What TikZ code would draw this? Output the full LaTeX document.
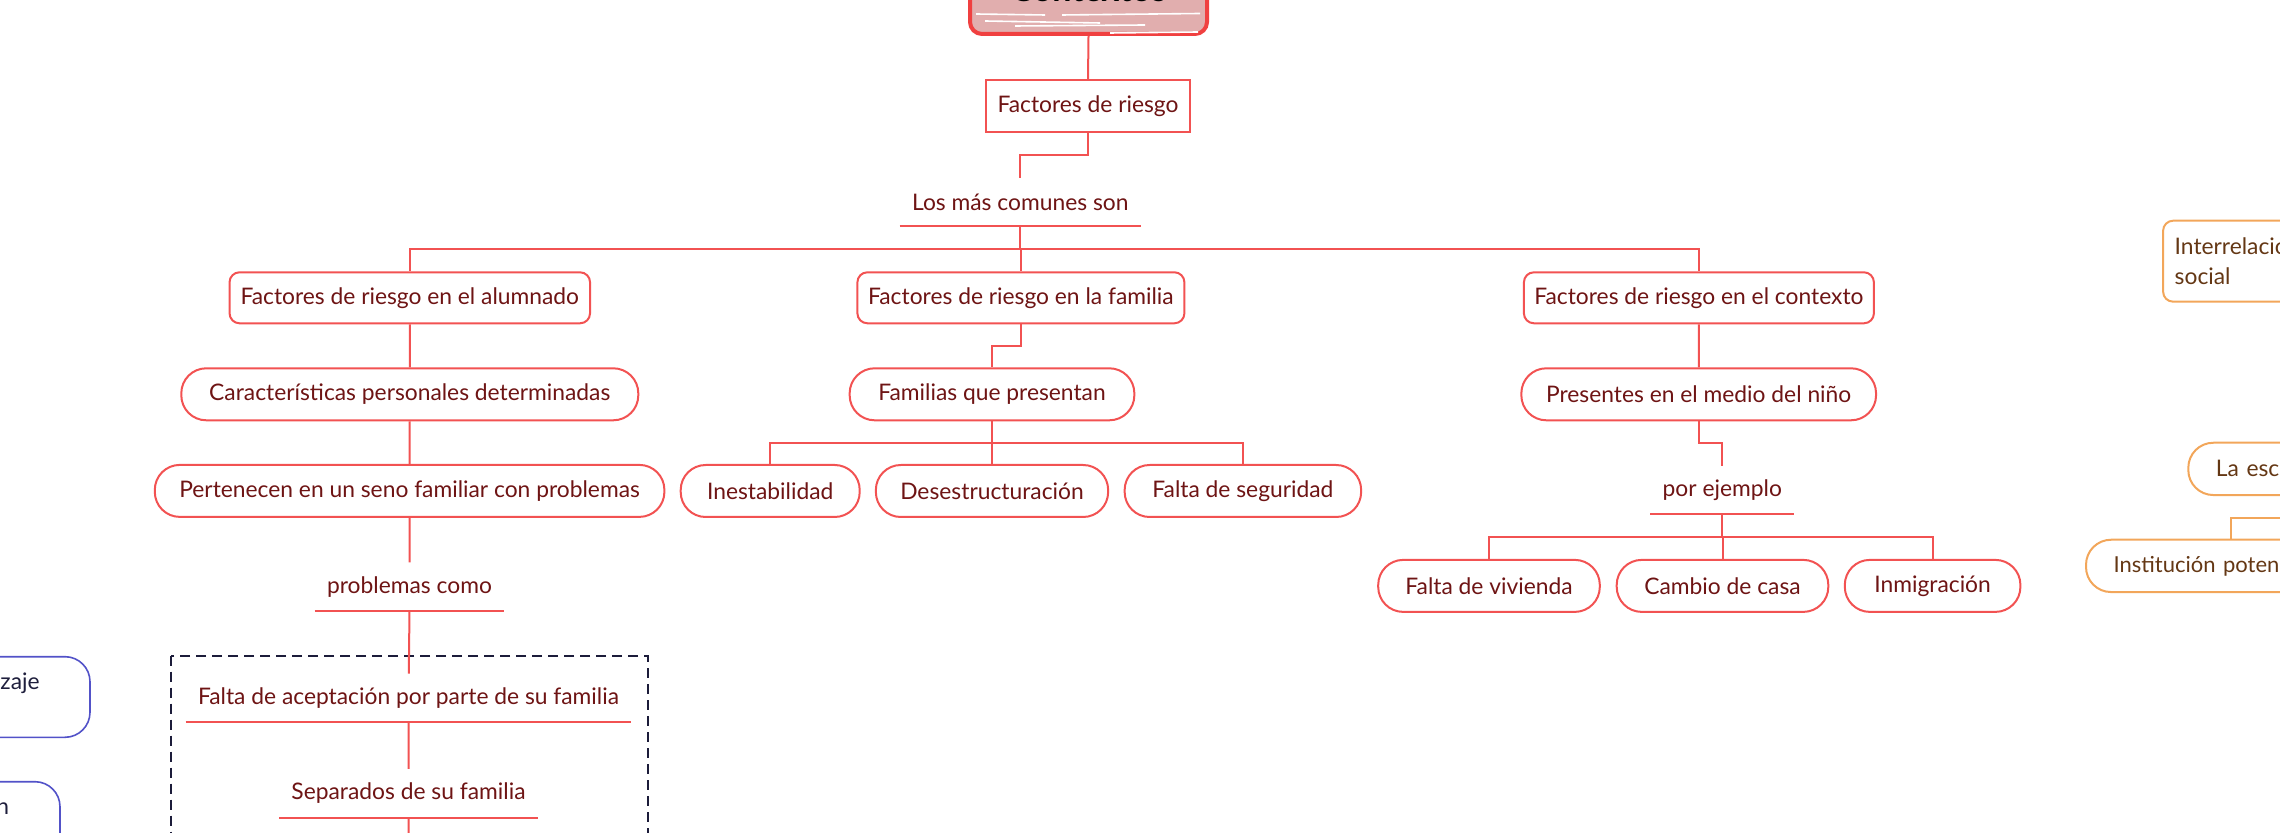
\documentclass[tikz,border=0pt]{standalone}
\usepackage{fontspec}
\setmainfont{Lato}
\definecolor{linered}{RGB}{242,82,82}
\definecolor{txtred}{RGB}{110,20,20}
\definecolor{ctxfill}{RGB}{225,174,174}
\definecolor{ctxline}{RGB}{240,64,64}
\definecolor{bluel}{RGB}{82,82,200}
\definecolor{bluet}{RGB}{30,30,60}
\definecolor{navy}{RGB}{28,28,58}
\definecolor{orl}{RGB}{242,166,90}
\definecolor{ort}{RGB}{100,55,20}
\tikzset{
    link/.style={draw=linered, line width=1pt},
    sq/.style={draw=linered, line width=1pt, text=txtred, inner sep=0, minimum height=26.15pt},
    rbox/.style={sq, rounded corners=5pt, minimum height=25.5pt},
    pill/.style={sq, rounded corners=12.5pt, minimum height=26pt},
    lbl/.style={text=txtred, inner xsep=6pt, inner ysep=0, minimum height=24pt},
    ctxbox/.style={draw=ctxline, fill=ctxfill, line width=2pt, rounded corners=6pt, text=black,
        font=\bfseries\fontsize{17}{17}\selectfont, text height=16pt, text depth=0pt,
        minimum width=118.5pt, minimum height=48pt},
    grp/.style={draw=navy, line width=0.8pt, dash pattern=on 5pt off 3pt},
    bpill/.style={draw=bluel, line width=0.8pt, rounded corners=12.5pt, minimum width=145pt, minimum height=40.3pt},
    btxt/.style={text=bluet, inner sep=0},
    obox/.style={draw=orl, line width=1pt, text=ort, rounded corners=5pt, align=left, inner xsep=5.8pt, inner ysep=0, minimum height=40.5pt},
    opill/.style={obox, rounded corners=12.5pt, inner xsep=13.8pt, minimum height=26.15pt}
}

\begin{document}
\begin{tikzpicture}[x=0.5pt, y=-0.5pt, font=\fontsize{11.4}{14.65}\selectfont]
    \useasboundingbox (0,0) rectangle (2280,833);

    % centre
    \node[ctxbox] (ctx) at (1088.5,-14) {Contextos};
    \draw[white, line width=0.8pt] (976,14) -- (1045,15) (1062,15) -- (1200,13.5) (985,21) -- (1100,23)
        (1015,26) -- (1145,25) (1110,33) -- (1198,32);
    \node[sq, minimum width=102.3pt] (fr) at (1088,106.2) {Factores de riesgo};
    \node[lbl] (lmc) at (1020.3,202) {Los más comunes son};

    \node[rbox, minimum width=180.25pt] (alu) at (409.8,297.8) {Factores de riesgo en el alumnado};
    \node[rbox, minimum width=163.5pt] (fam) at (1020.9,297.8) {Factores de riesgo en la familia};
    \node[rbox, minimum width=175pt] (con) at (1698.9,297.8) {Factores de riesgo en el contexto};

    \node[pill, minimum width=228.5pt] (car) at (409.8,394.3) {Características personales determinadas};
    \node[pill, minimum width=254.8pt] (per) at (409.6,490.9) {Pertenecen en un seno familiar con problemas};
    \node[lbl] (pc) at (409.5,586.7) {problemas como};
    \draw[grp] (171,655.7) rectangle (648.2,900);
    \node[lbl] (fa) at (408.5,698) {Falta de aceptación por parte de su familia};
    \node[lbl] (sep) at (408.5,793.3) {Separados de su familia};
    \coordinate (sepend) at (408.5,860);

    \node[pill, minimum width=142.35pt] (fqp) at (992,394.3) {Familias que presentan};
    \node[pill, minimum width=89.5pt] (ine) at (770.2,491) {Inestabilidad};
    \node[pill, minimum width=116.15pt] (des) at (992,491) {Desestructuración};
    \node[pill, minimum width=118.25pt] (fse) at (1242.9,491) {Falta de seguridad};

    \node[pill, minimum width=177.35pt] (pre) at (1698.7,394.3) {Presentes en el medio del niño};
    \node[lbl] (pe) at (1722.3,490) {por ejemplo};
    \node[pill, minimum width=110.8pt] (fvi) at (1489,585.9) {Falta de vivienda};
    \node[pill, minimum width=105.8pt] (cca) at (1722.5,585.9) {Cambio de casa};
    \node[pill, minimum width=87.8pt] (inm) at (1932.6,585.9) {Inmigración};

    % vecinos
    \node[bpill] (apr) at (-55,697) {};
    \node[btxt, anchor=east] (aprt) at (40,683.3) {zaje};
    \node[bpill] (otr) at (-85,822) {};
    \node[btxt, anchor=east] (otrt) at (9.5,808.3) {n};
    \node[obox, text width=138pt] (irs) at (2312.7,261.2) {Interrelacio\\social};
    \node[opill, text width=102.4pt] (esc) at (2318.3,468.9) {La escu};
    \node[opill, text width=117.4pt, font=\fontsize{11}{14.65}\selectfont] (ins) at (2231,565.9) {Institución potenc};

    \draw[link] (ctx.south) -- (fr.north);
    \draw[link] (fr.south) -- ++(0,21.4) -| (lmc.north);
    \foreach \n in {alu,fam,con}
        \draw[link] (lmc.south) -- ++(0,23) -| (\n.north);
    \draw[link] (alu) -- (car) (car) -- (per) (per) -- (pc) (pc.south) -- (fa) (fa.south) -- (sep) (sep.south) -- (sepend);
    \draw[link] (fam.south) -- ++(0,22) -| (fqp.north);
    \foreach \n in {ine,des,fse}
        \draw[link] (fqp.south) -- ++(0,21.7) -| (\n.north);
    \draw[link] (con) -- (pre);
    \draw[link] (pre.south) -- ++(0,21.7) -| (pe.north);
    \foreach \n in {fvi,cca,inm}
        \draw[link] (pe.south) -- ++(0,22.7) -| (\n.north);
    \foreach \n in {lmc,pc,fa,sep,pe}
        \draw[link] (\n.south west) -- (\n.south east);
    \draw[orl, line width=1pt] (esc.south) -- ++(0,21.7) -| (ins.north);
\end{tikzpicture}
\end{document}
